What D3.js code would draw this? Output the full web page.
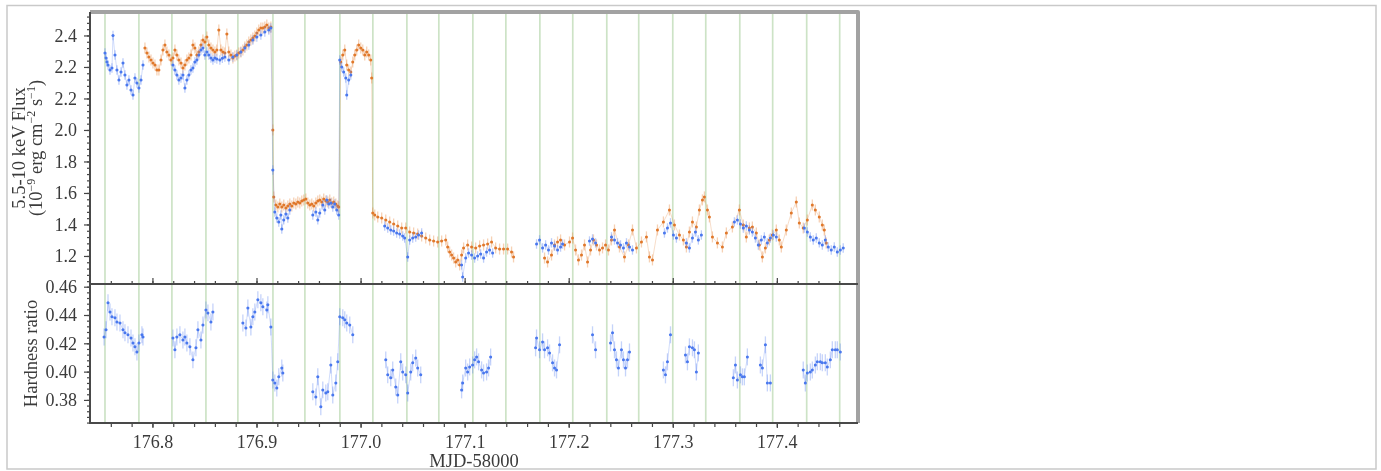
<!DOCTYPE html>
<html><head><meta charset="utf-8">
<script src="https://cdn.jsdelivr.net/npm/d3@7"></script>
<style>body{margin:0;background:#fff}svg{display:block}text{font-family:"Liberation Serif","DejaVu Serif",serif;fill:#3a3a3a}</style>
</head><body>
<svg id="c" width="1381" height="471"></svg>
<script>
// ---------- DATA ----------
const xTickValues = [176.8,176.9,177.0,177.1,177.2,177.3,177.4];
const xTickLabels = ["176.8","176.9","177.0","177.1","177.2","177.3","177.4"];
const fluxTickValues = [2.6,2.4,2.2,2.0,1.8,1.6,1.4,1.2];
const fluxTickLabels = ["2.4","2.2","2.2","2.0","1.8","1.6","1.4","1.2"];
const hrTickValues = [0.38,0.40,0.42,0.44,0.46];
const hrTickLabels = ["0.38","0.40","0.42","0.44","0.46"];
const orbitLines = [176.7544,176.7870,176.8187,176.8514,176.8821,176.9158,176.9465,176.9801,177.0118,177.0445,177.0752,177.1079,177.1396,177.1723,177.2039,177.2366,177.2673,177.3000,177.3317,177.3644,177.3960,177.4287,177.4604];

const blueFlux = [
[176.7544,2.489],[176.7554,2.457],[176.7563,2.432],[176.7573,2.413],[176.7592,2.381],[176.7611,2.394],[176.7621,2.600],[176.7640,2.476],[176.7659,2.381],[176.7678,2.317],[176.7698,2.368],[176.7717,2.425],[176.7736,2.349],[176.7755,2.286],[176.7774,2.317],[176.7794,2.254],[176.7813,2.222],[176.7832,2.330],[176.7851,2.298],[176.7870,2.267],[176.7890,2.317],[176.7909,2.413],
[176.8197,2.413],[176.8216,2.381],[176.8235,2.349],[176.8254,2.317],[176.8274,2.330],[176.8293,2.349],[176.8312,2.267],[176.8331,2.317],[176.8350,2.349],[176.8370,2.381],[176.8389,2.394],[176.8408,2.432],[176.8427,2.444],[176.8446,2.476],[176.8466,2.508],[176.8485,2.521],[176.8504,2.476],[176.8523,2.495],[176.8542,2.476],[176.8562,2.457],[176.8581,2.444],[176.8600,2.457],[176.8619,2.450],[176.8648,2.444],[176.8672,2.455],[176.8696,2.463],[176.8734,2.444],[176.8773,2.463],[176.8811,2.476],[176.8850,2.495],[176.8888,2.521],[176.8926,2.540],[176.8965,2.571],[176.9003,2.590],[176.9042,2.603],[176.9080,2.622],[176.9118,2.635],[176.9138,2.648],
[176.9157,1.746],[176.9176,1.479],[176.9195,1.441],[176.9214,1.416],[176.9234,1.460],[176.9243,1.371],[176.9262,1.429],[176.9282,1.467],[176.9301,1.441],[176.9320,1.492],
[176.9541,1.460],[176.9570,1.479],[176.9589,1.429],[176.9608,1.473],[176.9637,1.524],[176.9656,1.492],[176.9675,1.556],[176.9694,1.530],[176.9714,1.537],[176.9733,1.511],[176.9752,1.530],[176.9771,1.492],[176.9790,1.460],
[176.9800,2.444],[176.9819,2.400],[176.9838,2.368],[176.9858,2.330],[176.9867,2.222],[176.9886,2.317],[176.9906,2.349],
[177.0232,1.390],[177.0261,1.378],[177.0290,1.365],[177.0318,1.359],[177.0347,1.346],[177.0376,1.340],[177.0405,1.327],[177.0424,1.314],[177.0453,1.194],[177.0472,1.302],[177.0501,1.314],[177.0530,1.321],[177.0558,1.333],[177.0587,1.346],
[177.0971,1.143],[177.0981,1.067],[177.1010,1.187],[177.1038,1.219],[177.1067,1.206],[177.1096,1.187],[177.1125,1.200],[177.1154,1.213],[177.1182,1.187],[177.1211,1.225],[177.1240,1.238],[177.1269,1.219],
[177.1691,1.276],[177.1720,1.302],[177.1749,1.251],[177.1778,1.270],[177.1806,1.238],[177.1835,1.283],[177.1864,1.263],[177.1893,1.238],[177.1922,1.257],[177.1941,1.276],
[177.2200,1.295],[177.2229,1.308],[177.2258,1.283],
[177.2411,1.321],[177.2440,1.302],[177.2469,1.283],[177.2498,1.270],[177.2526,1.251],[177.2555,1.283],[177.2584,1.257],[177.2613,1.238],
[177.2920,1.346],[177.2949,1.378],[177.2978,1.410],[177.3006,1.333],[177.3035,1.314],
[177.3131,1.283],[177.3160,1.251],[177.3189,1.314],[177.3218,1.352],[177.3246,1.302],[177.3275,1.333],
[177.3592,1.416],[177.3621,1.429],[177.3650,1.403],[177.3678,1.378],[177.3707,1.390],[177.3736,1.365],[177.3765,1.352],[177.3794,1.314],[177.3822,1.270],[177.3851,1.302],[177.3880,1.321],[177.3909,1.283],[177.3938,1.314],[177.3966,1.333],[177.3995,1.321],
[177.4264,1.378],[177.4293,1.352],[177.4322,1.321],[177.4350,1.302],[177.4379,1.314],[177.4408,1.283],[177.4437,1.270],[177.4466,1.302],[177.4494,1.257],[177.4523,1.238],[177.4552,1.257],[177.4581,1.225],[177.4610,1.238],[177.4638,1.251]
];

const orangeFlux = [
[176.7928,2.521],[176.7947,2.489],[176.7966,2.463],[176.7986,2.444],[176.8005,2.425],[176.8024,2.413],[176.8043,2.381],[176.8062,2.381],[176.8082,2.444],[176.8101,2.508],[176.8120,2.540],[176.8139,2.495],[176.8158,2.476],[176.8178,2.444],[176.8197,2.457],[176.8216,2.508],[176.8235,2.476],[176.8254,2.444],[176.8274,2.425],[176.8293,2.394],[176.8312,2.413],[176.8331,2.444],[176.8350,2.457],[176.8370,2.476],[176.8389,2.540],[176.8408,2.521],[176.8427,2.476],[176.8446,2.495],[176.8466,2.540],[176.8485,2.571],[176.8504,2.559],[176.8523,2.590],[176.8542,2.540],[176.8562,2.521],[176.8581,2.508],[176.8600,2.495],[176.8619,2.508],[176.8638,2.635],[176.8658,2.508],[176.8677,2.495],[176.8696,2.489],[176.8715,2.610],[176.8734,2.495],[176.8754,2.476],[176.8773,2.457],[176.8792,2.470],[176.8811,2.476],[176.8830,2.489],[176.8850,2.495],[176.8869,2.508],[176.8888,2.527],[176.8907,2.540],[176.8926,2.559],[176.8946,2.571],[176.8965,2.584],[176.8984,2.597],[176.9003,2.616],[176.9022,2.635],[176.9042,2.648],[176.9061,2.648],[176.9080,2.654],[176.9099,2.667],[176.9118,2.648],[176.9138,2.654],[176.9157,2.000],
[176.9166,1.575],[176.9186,1.524],[176.9205,1.511],[176.9224,1.530],[176.9243,1.511],[176.9262,1.524],[176.9282,1.505],[176.9301,1.517],[176.9320,1.530],[176.9339,1.517],[176.9358,1.537],[176.9378,1.530],[176.9397,1.543],[176.9416,1.537],[176.9435,1.549],[176.9454,1.556],[176.9474,1.562],[176.9493,1.537],[176.9512,1.524],[176.9531,1.530],[176.9550,1.517],[176.9570,1.537],[176.9589,1.549],[176.9608,1.556],[176.9627,1.543],[176.9646,1.562],[176.9666,1.549],[176.9685,1.543],[176.9704,1.556],[176.9723,1.537],[176.9742,1.543],[176.9762,1.530],[176.9781,1.517],[176.9790,1.511],
[176.9810,2.432],[176.9829,2.476],[176.9848,2.508],[176.9867,2.413],[176.9886,2.381],[176.9906,2.368],[176.9925,2.432],[176.9944,2.476],[176.9963,2.508],[176.9982,2.540],[177.0002,2.521],[177.0021,2.508],[177.0040,2.476],[177.0059,2.495],[177.0078,2.476],[177.0098,2.444],[177.0107,2.330],
[177.0117,1.473],[177.0136,1.460],[177.0165,1.448],[177.0203,1.441],[177.0242,1.429],[177.0280,1.416],[177.0318,1.403],[177.0357,1.390],[177.0395,1.378],[177.0434,1.378],[177.0472,1.352],[177.0510,1.346],[177.0549,1.340],[177.0587,1.327],[177.0626,1.314],[177.0664,1.302],[177.0702,1.295],[177.0741,1.289],[177.0779,1.295],[177.0818,1.302],[177.0837,1.257],[177.0856,1.225],[177.0875,1.206],[177.0894,1.187],[177.0914,1.162],[177.0933,1.175],[177.0952,1.143],[177.0971,1.206],[177.0990,1.251],[177.1029,1.270],[177.1067,1.257],[177.1106,1.251],[177.1144,1.264],[177.1182,1.270],[177.1221,1.276],[177.1259,1.289],[177.1298,1.251],[177.1336,1.244],[177.1374,1.244],[177.1413,1.244],[177.1451,1.225],[177.1470,1.194],
[177.1768,1.187],[177.1797,1.162],[177.1835,1.206],[177.1864,1.270],[177.1893,1.289],[177.1922,1.302],[177.1960,1.270],[177.2008,1.289],[177.2037,1.314],[177.2066,1.238],[177.2094,1.175],[177.2123,1.206],[177.2152,1.270],[177.2181,1.162],[177.2210,1.238],[177.2238,1.302],[177.2267,1.270],[177.2296,1.238],[177.2325,1.251],[177.2354,1.270],[177.2382,1.238],[177.2411,1.302],[177.2440,1.365],[177.2488,1.257],[177.2536,1.194],[177.2574,1.270],[177.2613,1.365],[177.2651,1.251],[177.2699,1.289],[177.2747,1.321],[177.2776,1.194],[177.2805,1.175],[177.2853,1.365],[177.2910,1.416],[177.2968,1.492],[177.3016,1.397],[177.3064,1.333],[177.3102,1.302],[177.3131,1.257],[177.3160,1.352],[177.3189,1.416],[177.3227,1.384],[177.3256,1.492],[177.3285,1.556],[177.3304,1.575],[177.3333,1.492],[177.3352,1.448],[177.3381,1.321],[177.3429,1.283],[177.3477,1.257],[177.3515,1.346],[177.3573,1.384],[177.3640,1.492],[177.3678,1.397],[177.3707,1.321],[177.3736,1.378],[177.3765,1.384],[177.3803,1.346],[177.3832,1.270],[177.3861,1.194],[177.3890,1.251],[177.3928,1.302],[177.3957,1.333],[177.3995,1.365],[177.4024,1.302],[177.4043,1.257],[177.4091,1.365],[177.4139,1.473],[177.4187,1.543],[177.4216,1.410],[177.4254,1.378],[177.4293,1.429],[177.4341,1.524],[177.4370,1.492],[177.4408,1.448],[177.4437,1.397],[177.4456,1.365],[177.4475,1.283]
];

const hardness = [
[176.7535,0.4245],[176.7554,0.4295],[176.7573,0.4486],[176.7592,0.4422],[176.7611,0.4387],[176.7640,0.4380],[176.7659,0.4351],[176.7688,0.4344],[176.7717,0.4295],[176.7736,0.4274],[176.7765,0.4260],[176.7794,0.4238],[176.7813,0.4203],[176.7832,0.4175],[176.7851,0.4139],[176.7870,0.4203],[176.7899,0.4260],[176.7909,0.4245],
[176.8197,0.4238],[176.8216,0.4154],[176.8235,0.4245],[176.8264,0.4260],[176.8293,0.4224],[176.8312,0.4245],[176.8331,0.4203],[176.8360,0.4175],[176.8389,0.4083],[176.8418,0.4168],[176.8437,0.4295],[176.8466,0.4224],[176.8485,0.4330],[176.8514,0.4436],[176.8533,0.4415],[176.8562,0.4351],[176.8581,0.4422],
[176.8869,0.4344],[176.8898,0.4309],[176.8917,0.4450],[176.8946,0.4316],[176.8965,0.4387],[176.8984,0.4422],[176.9013,0.4507],[176.9042,0.4486],[176.9061,0.4458],[176.9099,0.4436],[176.9109,0.4472],[176.9138,0.4316],[176.9157,0.3941],[176.9176,0.3920],[176.9195,0.3885],[176.9214,0.3963],[176.9243,0.4026],[176.9253,0.3991],
[176.9541,0.3857],[176.9570,0.3821],[176.9589,0.3963],[176.9618,0.3751],[176.9637,0.3871],[176.9666,0.3849],[176.9685,0.3857],[176.9714,0.4047],[176.9733,0.3835],[176.9762,0.3920],[176.9781,0.4069],[176.9800,0.4387],[176.9829,0.4380],[176.9848,0.4366],[176.9867,0.4344],[176.9896,0.4330],[176.9925,0.4260],
[177.0242,0.4083],[177.0261,0.3977],[177.0290,0.3956],[177.0309,0.4012],[177.0338,0.3892],[177.0357,0.3835],[177.0386,0.4069],[177.0405,0.3998],[177.0434,0.3977],[177.0453,0.3849],[177.0482,0.3998],[177.0501,0.4062],[177.0530,0.4097],[177.0549,0.4026],[177.0578,0.3977],
[177.0971,0.3871],[177.0981,0.3920],[177.1010,0.4026],[177.1029,0.3998],[177.1048,0.4033],[177.1077,0.4047],[177.1096,0.4083],[177.1115,0.4104],[177.1134,0.4069],[177.1163,0.4012],[177.1182,0.3991],[177.1211,0.3998],[177.1230,0.4026],[177.1250,0.4104],
[177.1682,0.4168],[177.1691,0.4238],[177.1720,0.4154],[177.1749,0.4210],[177.1768,0.4154],[177.1797,0.4168],[177.1816,0.4132],[177.1845,0.4062],[177.1864,0.4026],[177.1883,0.4012],[177.1912,0.4189],
[177.2229,0.4260],[177.2258,0.4154],
[177.2402,0.4203],[177.2421,0.4274],[177.2440,0.4154],[177.2459,0.4083],[177.2478,0.4026],[177.2507,0.4154],[177.2526,0.4083],[177.2546,0.4026],[177.2565,0.4083],[177.2584,0.4139],
[177.2910,0.4012],[177.2930,0.3977],[177.2949,0.4069],[177.2978,0.4260],
[177.3122,0.4118],[177.3141,0.4069],[177.3160,0.4175],[177.3189,0.4168],[177.3208,0.4154],[177.3227,0.3998],[177.3246,0.4132],
[177.3582,0.3956],[177.3602,0.4047],[177.3621,0.3941],[177.3650,0.3977],[177.3669,0.3963],[177.3688,0.3963],[177.3717,0.4104],
[177.3842,0.4047],[177.3861,0.4026],[177.3890,0.4189],[177.3909,0.3920],[177.3938,0.3920],
[177.4254,0.4012],[177.4274,0.3920],[177.4293,0.3991],[177.4322,0.3998],[177.4341,0.4012],[177.4370,0.4047],[177.4389,0.4069],[177.4418,0.4069],[177.4437,0.4062],[177.4466,0.4062],[177.4485,0.4033],[177.4514,0.4083],[177.4533,0.4154],[177.4562,0.4154],[177.4581,0.4154],[177.4610,0.4139]
];
const blueFluxErr = 0.03, orangeFluxErr = 0.035, hardnessErr = 0.006;

// ---------- LAYOUT ----------
const svg = d3.select("#c");
const L = 90, R = 858, T = 12, MID = 284, B = 423;
const x = d3.scaleLinear().domain([176.74, 177.478]).range([L, R]);
const yTop = d3.scaleLinear().domain([1.022, 2.749]).range([MID, T]);
const yBot = d3.scaleLinear().domain([0.3637, 0.4619]).range([B, MID]);

svg.append("rect").attr("x",7).attr("y",5.5).attr("width",1369).attr("height",463.5)
  .attr("fill","#fff").attr("stroke","#c9c9c9").attr("stroke-width",1.5);

const defs = svg.append("defs");
defs.append("filter").attr("id","soft").append("feGaussianBlur").attr("stdDeviation",0.7);
defs.append("clipPath").attr("id","cTop").append("rect").attr("x",L).attr("y",T).attr("width",R-L).attr("height",MID-T);
defs.append("clipPath").attr("id","cBot").append("rect").attr("x",L).attr("y",MID).attr("width",R-L).attr("height",B-MID);

const g = svg.append("g").attr("filter","url(#soft)");

// orbit lines
g.append("g").selectAll("line").data(orbitLines).join("line")
  .attr("x1",d=>x(d)).attr("x2",d=>x(d)).attr("y1",T).attr("y2",B)
  .attr("stroke","#cde3c6").attr("stroke-width",1.7);

function segments(data, gap){
  const segs=[]; let cur=[];
  data.forEach((d,i)=>{ if(i>0 && d[0]-data[i-1][0]>gap){segs.push(cur);cur=[];} cur.push(d); });
  if(cur.length) segs.push(cur); return segs;
}
function drawSeries(parent, data, y, err, col, errCol, lineCol, clip){
  const s = parent.append("g").attr("clip-path",`url(#${clip})`);
  const line = d3.line().x(d=>x(d[0])).y(d=>y(d[1]));
  s.selectAll("path.l").data(segments(data,0.008)).join("path").attr("class","l")
    .attr("d",line).attr("fill","none").attr("stroke",lineCol).attr("stroke-width",0.8);
  s.selectAll("line.e").data(data).join("line").attr("class","e")
    .attr("x1",d=>x(d[0])).attr("x2",d=>x(d[0]))
    .attr("y1",d=>y(d[1]-err)).attr("y2",d=>y(d[1]+err))
    .attr("stroke",errCol).attr("stroke-width",1.3);
  s.selectAll("line.h").data(data).join("line").attr("class","h")
    .attr("x1",d=>x(d[0])-1.4).attr("x2",d=>x(d[0])+1.4)
    .attr("y1",d=>y(d[1])).attr("y2",d=>y(d[1]))
    .attr("stroke",errCol).attr("stroke-width",1);
  s.selectAll("circle").data(data).join("circle")
    .attr("cx",d=>x(d[0])).attr("cy",d=>y(d[1])).attr("r",1.5).attr("fill",col);
}
drawSeries(g, orangeFlux, yTop, orangeFluxErr, "#e0782c", "rgba(232,140,70,0.4)", "rgba(226,130,60,0.35)", "cTop");
drawSeries(g, blueFlux, yTop, blueFluxErr, "#4a78ee", "rgba(90,130,240,0.4)", "rgba(90,130,240,0.35)", "cTop");
drawSeries(g, hardness, yBot, hardnessErr, "#4a78ee", "rgba(90,130,240,0.35)", "rgba(90,130,240,0.35)", "cBot");

// axes
function styleAxis(sel){ sel.select(".domain").remove(); sel.selectAll(".tick line").attr("stroke","#444").attr("stroke-width",1.2);
  sel.selectAll(".tick text").attr("font-size",18).attr("fill","#3a3a3a").attr("font-family","Liberation Serif, serif"); }

const fluxMinor = d3.range(1.04, 2.74, 0.04);
g.append("g").attr("transform",`translate(${L},0)`).call(d3.axisLeft(yTop).tickValues(fluxMinor).tickSize(3).tickFormat("")).call(styleAxis);
g.append("g").attr("transform",`translate(${L},0)`).call(d3.axisLeft(yTop).tickValues(fluxTickValues).tickSize(6).tickPadding(7).tickFormat((d,i)=>fluxTickLabels[i])).call(styleAxis);

const hrMinor = d3.range(0.364, 0.462, 0.004);
g.append("g").attr("transform",`translate(${L},0)`).call(d3.axisLeft(yBot).tickValues(hrMinor).tickSize(3).tickFormat("")).call(styleAxis);
g.append("g").attr("transform",`translate(${L},0)`).call(d3.axisLeft(yBot).tickValues(hrTickValues).tickSize(6).tickPadding(7).tickFormat((d,i)=>hrTickLabels[i])).call(styleAxis);

const xMinor = d3.range(176.76, 177.47, 0.02);
g.append("g").attr("transform",`translate(0,${MID})`).call(d3.axisTop(x).tickValues(xMinor).tickSize(3).tickFormat("")).call(styleAxis);
g.append("g").attr("transform",`translate(0,${MID})`).call(d3.axisTop(x).tickValues(xTickValues).tickSize(6).tickFormat("")).call(styleAxis);
g.append("g").attr("transform",`translate(0,${B})`).call(d3.axisBottom(x).tickValues(xMinor).tickSize(4).tickFormat("")).call(styleAxis);
g.append("g").attr("transform",`translate(0,${B})`).call(d3.axisBottom(x).tickValues(xTickValues).tickSize(5).tickPadding(7).tickFormat((d,i)=>xTickLabels[i])).call(styleAxis);

// frame
g.append("path").attr("d",`M${L},${T}H${R}V${B}`).attr("fill","none").attr("stroke","#a2a2a2").attr("stroke-width",4).attr("stroke-linejoin","round");
g.append("path").attr("d",`M${L},${T}V${B}H${R}`).attr("fill","none").attr("stroke","#4a4a4a").attr("stroke-width",2);
g.append("line").attr("x1",L).attr("x2",R).attr("y1",MID).attr("y2",MID).attr("stroke","#4a4a4a").attr("stroke-width",2);

// labels
const yl = g.append("text").attr("transform",`translate(25,${(T+MID)/2}) rotate(-90)`).attr("text-anchor","middle").attr("font-size",18.5);
yl.text("5.5-10 keV Flux");
const yl2 = g.append("text").attr("transform",`translate(42,${(T+MID)/2}) rotate(-90)`).attr("text-anchor","middle").attr("font-size",18.5);
yl2.append("tspan").text("(10");
yl2.append("tspan").attr("font-size",12).attr("dy",-7).text("\u22129");
yl2.append("tspan").attr("dy",7).text(" erg cm");
yl2.append("tspan").attr("font-size",12).attr("dy",-7).text("\u22122");
yl2.append("tspan").attr("dy",7).text(" s");
yl2.append("tspan").attr("font-size",12).attr("dy",-7).text("\u22121");
yl2.append("tspan").attr("dy",7).text(")");
g.append("text").attr("transform",`translate(37,${(MID+B)/2}) rotate(-90)`).attr("text-anchor","middle").attr("font-size",18.5).text("Hardness ratio");
g.append("text").attr("x",(L+R)/2).attr("y",467).attr("text-anchor","middle").attr("font-size",18.5).text("MJD-58000");
</script>
</body></html>
